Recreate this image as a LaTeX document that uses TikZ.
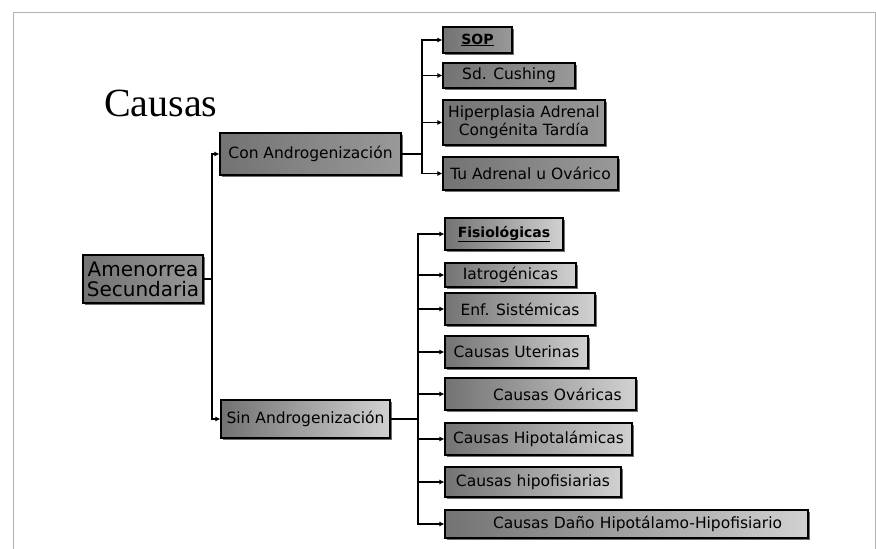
\documentclass[tikz,border=0pt]{standalone}
\usepackage{fontspec}
\setmainfont{DejaVu Sans}
\newfontfamily\titlefont{Liberation Serif}
\usetikzlibrary{arrows.meta,shadows}
\definecolor{boxdark}{gray}{0.45}
\definecolor{boxmid}{gray}{0.6}
\definecolor{boxlight}{gray}{0.82}
\begin{document}
\begin{tikzpicture}[x=1pt,y=-1pt,
  boxbase/.style={draw=black, line width=1.1pt, inner xsep=2pt, inner ysep=1pt,
    font=\fontsize{15.5}{18}\selectfont, text=black,
    drop shadow={shadow xshift=1.5pt, shadow yshift=-1.5pt, fill=black!70, opacity=0.8}},
  darkbox/.style={boxbase, left color=boxdark, right color=boxmid},
  lightbox/.style={boxbase, left color=boxdark, right color=boxlight},
  conn/.style={line width=1.1pt, draw=black},
  arr/.style={conn, -{Latex[length=5pt,width=5pt]}},
  boldtxt/.style={font=\fontsize{14}{16}\selectfont\bfseries}
]
\useasboundingbox (0,0) rectangle (876,549);
% frame
\draw[gray!60, line width=1pt] (13,549) -- (13,12) -- (875,12) -- (875,549);

% title
\node[font=\titlefont\fontsize{40}{42}\selectfont, anchor=base west, inner sep=0pt] (title) at (104,116) {Causas};

% root and level 1
\node[darkbox, minimum width=120, minimum height=48, align=center, font=\fontsize{20}{20}\selectfont] (amen) at (143,279) {Amenorrea\\Secundaria};
\node[darkbox, minimum width=181, minimum height=42] (con) at (310.5,154) {Con Androgenización};
\node[lightbox, minimum width=169, minimum height=38] (sin) at (305.5,419) {Sin Androgenización};

% upper group
\node[darkbox, boldtxt, minimum width=69, minimum height=26] (sop) at (477.5,40) {\underline{SOP}};
\node[darkbox, minimum width=132, minimum height=25] (cush) at (509,75.5) {Sd. Cushing};
\node[darkbox, minimum width=162, minimum height=45, align=center] (hiper) at (524,122.5) {Hiperplasia Adrenal\\Congénita Tardía};
\node[darkbox, minimum width=175, minimum height=33] (tu) at (530.5,173.5) {Tu Adrenal u Ovárico};

% lower group
\node[lightbox, boldtxt, minimum width=118, minimum height=32] (fis) at (504,234) {\underline{Fisiológicas}};
\node[lightbox, minimum width=131, minimum height=24] (iat) at (510.5,275) {Iatrogénicas};
\node[lightbox, minimum width=150, minimum height=32] (enf) at (520,309) {Enf. Sistémicas};
\node[lightbox, minimum width=143, minimum height=32] (ute) at (516.5,352) {Causas Uterinas};
\node[lightbox, text width=187, align=left, minimum height=32] (ova) at (540.5,394) {\hspace*{46pt}Causas Ováricas};
\node[lightbox, minimum width=187, minimum height=32] (hipot) at (538.5,439) {Causas Hipotalámicas};
\node[lightbox, minimum width=176, minimum height=30] (hipof) at (533,482) {Causas hipofisiarias};
\node[lightbox, text width=359, align=left, minimum height=28] (dano) at (626.5,524) {\hspace*{46pt}Causas Daño Hipotálamo-Hipofisiario};

% connectors
\coordinate (j1) at (212,279);
\draw[conn] (amen.east) -- (j1);
\draw[arr] (j1) |- (con.west);
\draw[arr] (j1) |- (sin.west);

\coordinate (j2) at (422,154);
\draw[conn] (con.east) -- (j2);
\foreach \n in {sop,cush,hiper,tu} \draw[arr] (j2) |- (\n.west);

\coordinate (j3) at (418,419);
\draw[conn] (sin.east) -- (j3);
\foreach \n in {fis,iat,enf,ute,ova,hipot,hipof,dano} \draw[arr] (j3) |- (\n.west);
\end{tikzpicture}
\end{document}
